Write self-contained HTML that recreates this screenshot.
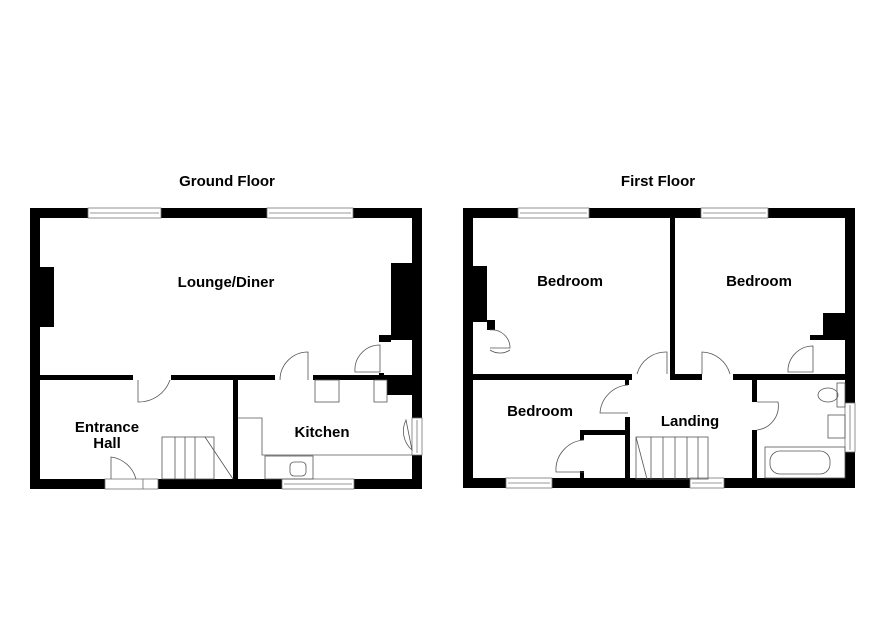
<!DOCTYPE html>
<html><head><meta charset="utf-8"><style>
html,body{margin:0;padding:0;background:#fff;}
svg{display:block}
text{font-family:"Liberation Sans",Arial,sans-serif;font-weight:bold;fill:#000}
</style></head><body>
<svg width="886" height="644" viewBox="0 0 886 644" xmlns="http://www.w3.org/2000/svg">
<text x="227" y="186" font-size="15" text-anchor="middle">Ground Floor</text>
<text x="658" y="186" font-size="15" text-anchor="middle">First Floor</text>

<g fill="#000">
<rect x="30" y="208" width="392" height="10"/>
<rect x="30" y="208" width="10" height="281"/>
<rect x="412" y="208" width="10" height="281"/>
<rect x="30" y="479" width="392" height="10"/>
<rect x="40" y="267" width="14" height="60"/>
<rect x="391" y="263" width="21" height="77"/>
<rect x="379" y="335" width="12" height="7"/>
<rect x="40" y="375" width="93" height="5"/>
<rect x="171" y="375" width="104" height="5"/>
<rect x="313" y="375" width="99" height="5"/>
<rect x="387" y="375" width="25" height="20"/>
<rect x="233" y="380" width="5" height="99"/>
<rect x="379" y="373" width="5" height="5"/>

<rect x="463" y="208" width="392" height="10"/>
<rect x="463" y="208" width="10" height="280"/>
<rect x="845" y="208" width="10" height="280"/>
<rect x="463" y="478" width="392" height="10"/>
<rect x="473" y="266" width="14" height="56"/>
<rect x="487" y="320" width="8" height="10"/>
<rect x="670" y="218" width="5" height="162"/>
<rect x="473" y="374" width="159" height="6"/>
<rect x="670" y="374" width="32" height="6"/>
<rect x="733" y="374" width="112" height="6"/>
<rect x="823" y="313" width="22" height="22"/>
<rect x="810" y="335" width="35" height="5"/>
<rect x="752" y="380" width="5" height="22"/>
<rect x="752" y="430" width="5" height="49"/>
<rect x="625" y="417" width="5" height="62"/>
<rect x="625" y="380" width="4" height="5"/>
<rect x="580" y="430" width="45" height="5"/>
<rect x="580" y="430" width="4" height="10"/>
<rect x="580" y="471" width="4" height="8"/>
</g>

<g fill="#fff" stroke="#777" stroke-width="0.8">
<rect x="88" y="208" width="73" height="10"/><line x1="90" y1="213" x2="159" y2="213"/>
<rect x="267" y="208" width="86" height="10"/><line x1="269" y1="213" x2="351" y2="213"/>
<rect x="282" y="479" width="72" height="10"/><line x1="284" y1="484" x2="352" y2="484"/>
<rect x="412" y="418" width="10" height="37"/><line x1="417" y1="420" x2="417" y2="453"/>
<rect x="105" y="479" width="38" height="10"/>
<rect x="143" y="479" width="15" height="10"/>
<rect x="518" y="208" width="71" height="10"/><line x1="520" y1="213" x2="587" y2="213"/>
<rect x="701" y="208" width="67" height="10"/><line x1="703" y1="213" x2="766" y2="213"/>
<rect x="506" y="478" width="46" height="10"/><line x1="508" y1="483" x2="550" y2="483"/>
<rect x="690" y="478" width="34" height="10"/><line x1="692" y1="483" x2="722" y2="483"/>
<rect x="845" y="403" width="10" height="49"/><line x1="850" y1="405" x2="850" y2="450"/>
</g>

<g fill="none" stroke="#555" stroke-width="0.8">
<path d="M138 380 V402 A33 33 0 0 0 170 380"/>
<path d="M280 380 A28 28 0 0 1 308 352 V380"/>
<path d="M355 372 A25 25 0 0 1 380 345 V372 Z"/>
<path d="M111 479 V457 A30 30 0 0 1 136 479"/>
<path d="M406 420 A25 25 0 0 0 412 450 Z"/>
<rect x="315" y="380" width="24" height="22"/>
<rect x="374" y="380" width="13" height="22"/>
<path d="M238 418 H262 V455 H412"/>
<rect x="265" y="456" width="48" height="23"/>
<rect x="162" y="437" width="52" height="42"/>
<line x1="175" y1="437" x2="175" y2="479"/><line x1="185" y1="437" x2="185" y2="479"/><line x1="195" y1="437" x2="195" y2="479"/>
<path d="M205 437 L233 479"/>
<rect x="290" y="462" width="16" height="14" rx="4"/>
<path d="M637 374 A30 30 0 0 1 667 352 V374"/>
<path d="M702 374 V352 A30 30 0 0 1 730 374"/>
<path d="M628 385 A30 30 0 0 0 600 413 H628"/>
<path d="M757 402 H778 A24 24 0 0 1 757 430"/>
<path d="M584 440 A30 30 0 0 0 556 472 H584"/>
<path d="M788 372 A25 25 0 0 1 813 346 V372 Z"/>
<path d="M490 330 A18 18 0 0 1 510 348 H490 M490 350 A18 18 0 0 0 510 350"/>
<rect x="636" y="437" width="72" height="42"/>
<line x1="651" y1="437" x2="651" y2="479"/><line x1="663" y1="437" x2="663" y2="479"/><line x1="675" y1="437" x2="675" y2="479"/><line x1="687" y1="437" x2="687" y2="479"/><line x1="698" y1="437" x2="698" y2="479"/>
<path d="M636 437 L647 479"/>
<rect x="765" y="447" width="80" height="31"/>
<rect x="770" y="451" width="60" height="23" rx="10"/>
<ellipse cx="828" cy="395" rx="10" ry="7"/>
<rect x="837" y="383" width="8" height="24"/>
<rect x="828" y="415" width="17" height="23"/>
</g>

<g font-size="15">
<text x="226" y="287" text-anchor="middle">Lounge/Diner</text>
<text x="107" y="432" text-anchor="middle">Entrance</text>
<text x="107" y="448" text-anchor="middle">Hall</text>
<text x="322" y="437" text-anchor="middle">Kitchen</text>
<text x="570" y="286" text-anchor="middle">Bedroom</text>
<text x="759" y="286" text-anchor="middle">Bedroom</text>
<text x="540" y="416" text-anchor="middle">Bedroom</text>
<text x="690" y="426" text-anchor="middle">Landing</text>
</g>
</svg>
</body></html>
